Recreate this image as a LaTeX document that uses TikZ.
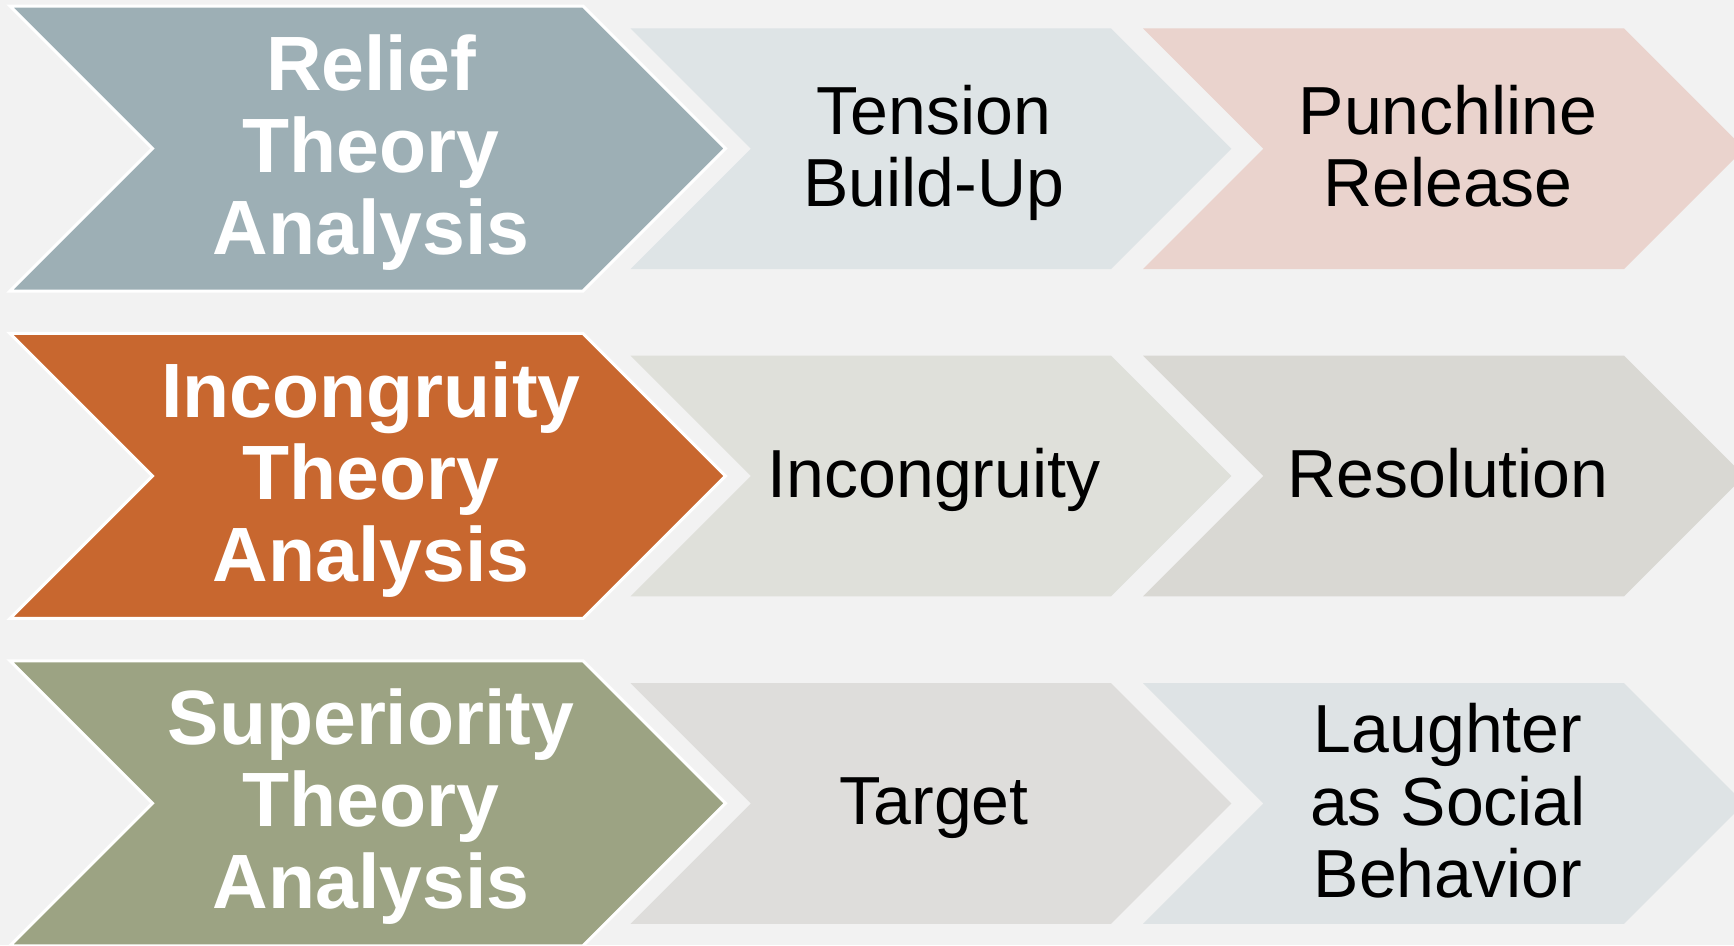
\documentclass[tikz,border=0pt]{standalone}
\usepackage{fontspec}
\setmainfont{Liberation Sans}
\definecolor{bgc}{HTML}{F2F2F2}
\definecolor{bigA}{HTML}{9DAFB5}
\definecolor{bigB}{HTML}{C8672F}
\definecolor{bigC}{HTML}{9CA383}
\definecolor{smAa}{HTML}{DEE4E6}
\definecolor{smAb}{HTML}{EAD3CD}
\definecolor{smBa}{HTML}{DFE0DA}
\definecolor{smBb}{HTML}{D9D8D3}
\definecolor{smCa}{HTML}{DEDDDB}
\definecolor{smCb}{HTML}{DEE3E5}
\newcommand\ls{\rule[-0.25em]{0pt}{1.05em}}
\newcommand\chevron[5]{%
  \pgfmathsetmacro\hh{(#5-#4)/2}%
  \pgfmathsetmacro\ym{(#5+#4)/2}%
  \path[#1] (#2,#4) -- (#3,#4) -- ({#3+\hh},\ym) -- (#3,#5) -- (#2,#5) -- ({#2+\hh},\ym) -- cycle;}
\tikzset{
  bigchev/.style={fill=#1, draw=white, line width=3pt, line join=miter},
  smallchev/.style={fill=#1},
  bigtxt/.style={inner sep=0pt, align=center, text=white, font=\fontsize{77}{80}\selectfont\bfseries},
  smalltxt/.style={inner sep=0pt, align=center, text=black, font=\fontsize{68}{71}\selectfont},
}
\begin{document}
\begin{tikzpicture}[x=1pt,y=-1pt]
\fill[bgc] (0,0) rectangle (1734,945);
\useasboundingbox (0,0) rectangle (1734,945);
% row 1
\chevron{bigchev=bigA}{10}{583}{6}{291}
\chevron{smallchev=smAa}{630.5}{1111}{28.3}{269}
\chevron{smallchev=smAb}{1143}{1624}{28.3}{269}
% row 2
\chevron{bigchev=bigB}{10}{583}{333.4}{618.4}
\chevron{smallchev=smBa}{630.5}{1111}{355.7}{596.4}
\chevron{smallchev=smBb}{1143}{1624}{355.7}{596.4}
% row 3
\chevron{bigchev=bigC}{10}{583}{660.8}{945.8}
\chevron{smallchev=smCa}{630.5}{1111}{683.1}{923.8}
\chevron{smallchev=smCb}{1143}{1624}{683.1}{923.8}
% labels
\node[bigtxt] (relief) at (371,151) {\ls Relief\\\ls Theory\\\ls Analysis};
\node[smalltxt] (tension) at (934,151.5) {\ls Tension\\\ls Build-Up};
\node[smalltxt] (punch) at (1448,151.5) {\ls Punchline\\\ls Release};
\node[bigtxt] (incong) at (371,478) {\ls Incongruity\\\ls Theory\\\ls Analysis};
\node[smalltxt] (incongr) at (934,478.5) {\ls Incongruity};
\node[smalltxt] (resol) at (1448,478.5) {\ls Resolution};
\node[bigtxt] (super) at (371,805.5) {\ls Superiority\\\ls Theory\\\ls Analysis};
\node[smalltxt] (target) at (934,806) {\ls Target};
\node[smalltxt] (laugh) at (1448,806.5) {\ls Laughter\\\ls as Social\\\ls Behavior};
\end{tikzpicture}
\end{document}
